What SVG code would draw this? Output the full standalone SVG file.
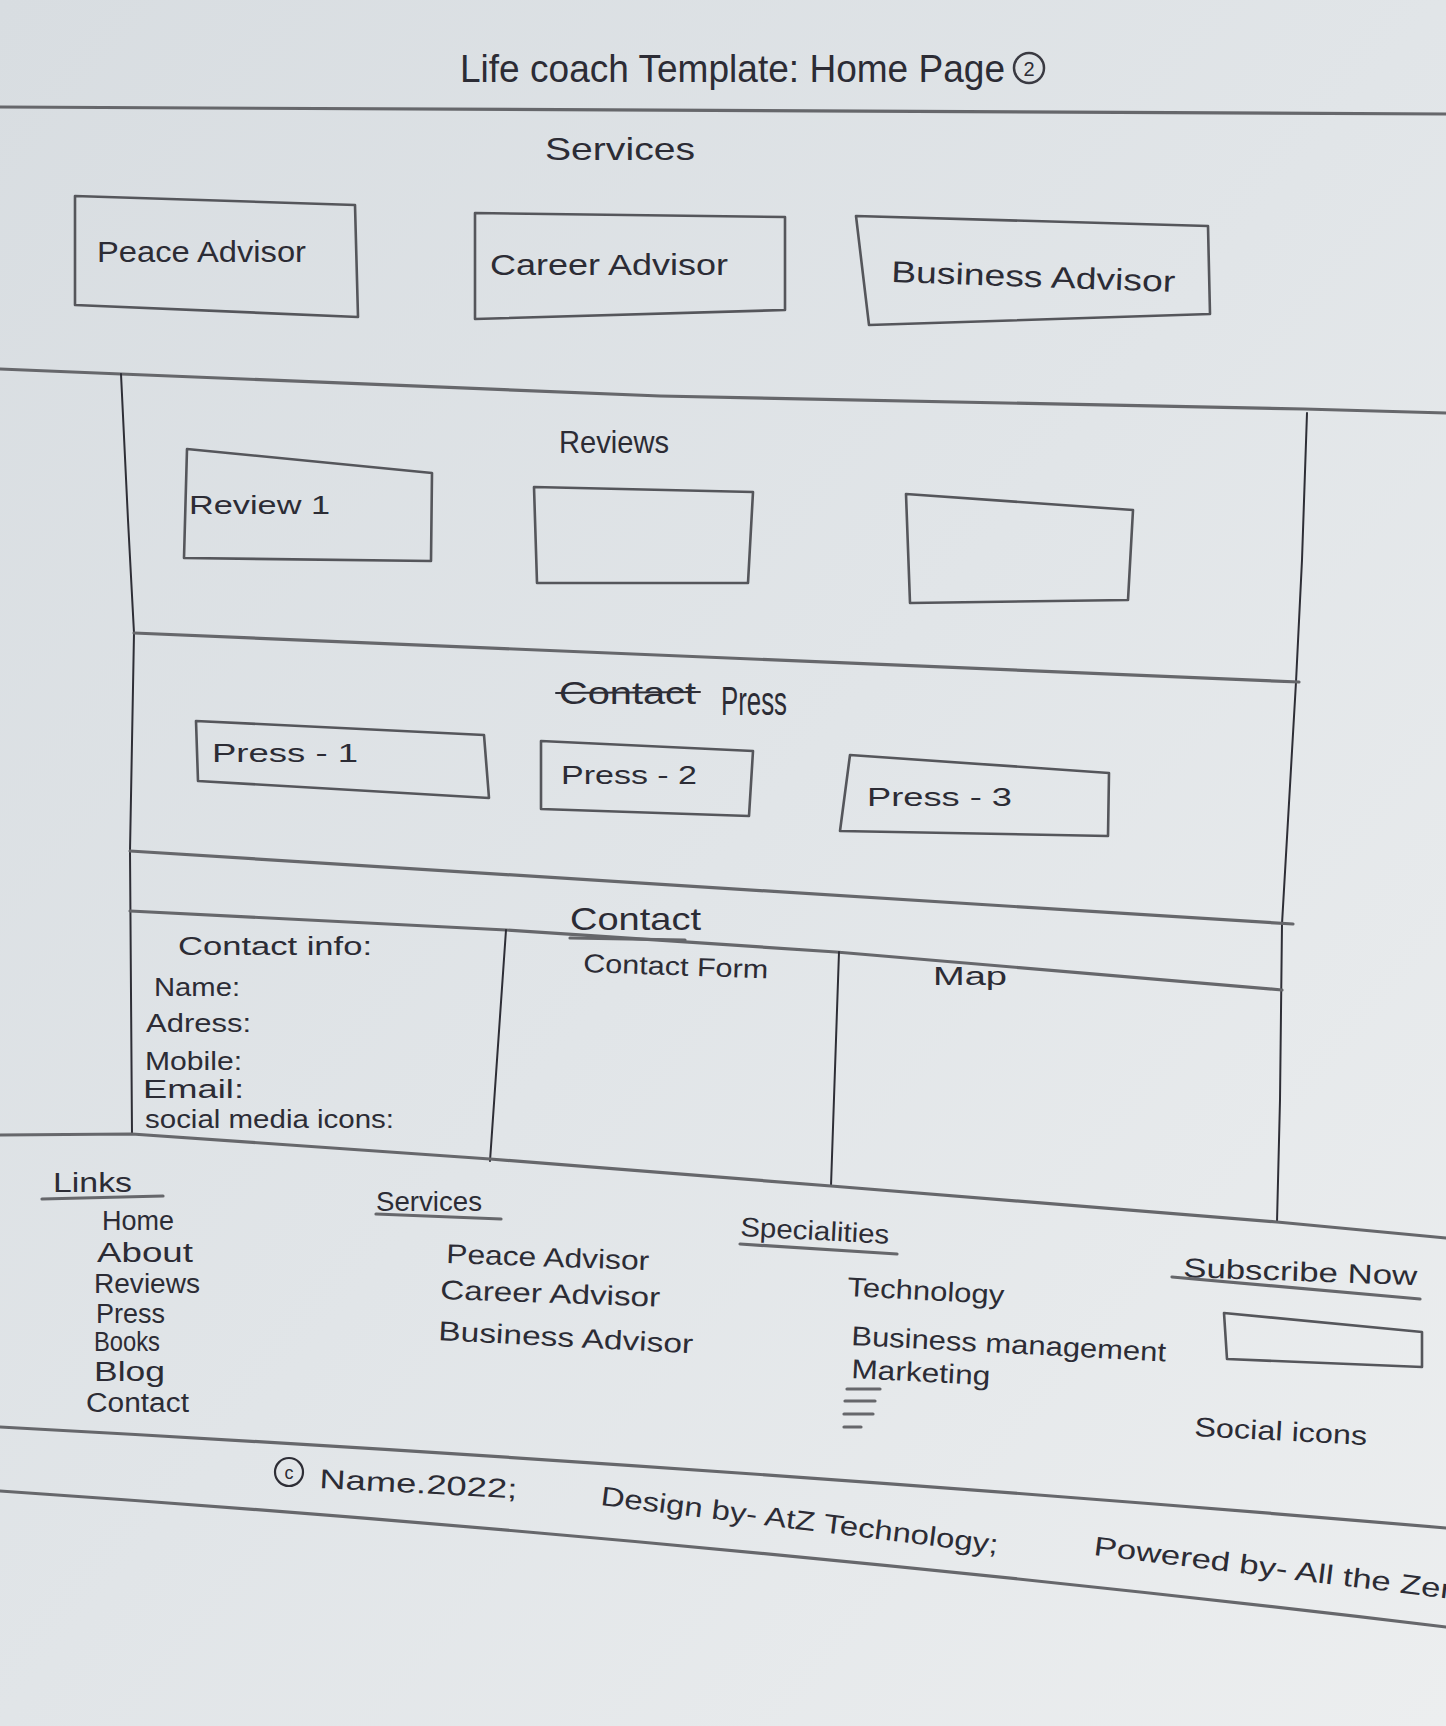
<svg xmlns="http://www.w3.org/2000/svg" width="1446" height="1726" viewBox="0 0 1446 1726">
  <defs>
    <linearGradient id="paper" x1="0" y1="0" x2="1" y2="1">
      <stop offset="0" stop-color="#d8dde1"/>
      <stop offset="0.5" stop-color="#e1e5e8"/>
      <stop offset="1" stop-color="#eceeef"/>
    </linearGradient>
    <style>
      .pen { fill: none; stroke: #2e2e36; stroke-width: 2; stroke-linecap: round; stroke-linejoin: round; }
      .pencil { fill: none; stroke: #66676b; stroke-width: 3.2; stroke-linecap: round; stroke-linejoin: round; }
      .box { fill: none; stroke: #55565b; stroke-width: 2.6; stroke-linejoin: round; }
      text { font-family: "Liberation Sans", Arial, sans-serif; fill: #2c2c35; }
      .title { font-size: 38px; }
      .head { font-size: 32px; }
      .label { font-size: 30px; }
      .small { font-size: 26px; }
      .foot { font-size: 27px; }
    </style>
  </defs>

  <!-- paper -->
  <rect x="0" y="0" width="1446" height="1726" fill="url(#paper)"/>

  <!-- page title -->
  <g id="title">
    <text class="title" x="460" y="82" textLength="545" lengthAdjust="spacingAndGlyphs">Life coach Template: Home Page</text>
    <circle cx="1029" cy="68" r="15" fill="none" stroke="#3a3a42" stroke-width="2.5"/>
    <text x="1029" y="76" font-size="20" text-anchor="middle">2</text>
  </g>

  <!-- section rules and the outer frame of the page body -->
  <g id="section-lines">
    <path class="pencil" d="M0,107 L1446,114"/>
    <path class="pencil" d="M0,369 L121,374 Q400,386 660,396 L1304,409 L1446,413"/>
    <path class="pen" d="M121,374 L128,520 L134,633 L130,851 L132,1134"/>
    <path class="pen" d="M1307,413 L1302,560 L1296,682 L1282,924 L1280,1100 L1277,1222"/>
    <path class="pencil" d="M134,633 Q700,658 1299,682"/>
    <path class="pencil" d="M130,851 L1293,924"/>
    <path class="pencil" d="M130,911 L506,930 L836,952 L1282,990"/>
    <path class="pen" d="M506,930 L490,1161"/>
    <path class="pen" d="M839,952 L831,1186"/>
    <path class="pencil" d="M0,1135 L132,1134 L490,1159 L831,1186 L1277,1222 L1446,1238"/>
    <path class="pencil" d="M0,1427 Q720,1466 1446,1528"/>
    <path class="pencil" d="M0,1491 Q720,1540 1446,1627"/>
  </g>

  <!-- services row -->
  <g id="services-heading">
    <text class="head" x="545" y="160" textLength="150" lengthAdjust="spacingAndGlyphs">Services</text>
  </g>
  <g id="svc-peace">
    <path class="box" d="M75,196 L355,205 L358,317 L75,305 Z"/>
    <text class="label" x="97" y="262" textLength="209" lengthAdjust="spacingAndGlyphs">Peace Advisor</text>
  </g>
  <g id="svc-career">
    <path class="box" d="M475,213 L785,217 L785,310 L475,319 Z"/>
    <text class="label" x="490" y="275" textLength="238" lengthAdjust="spacingAndGlyphs">Career Advisor</text>
  </g>
  <g id="svc-business">
    <path class="box" d="M856,216 L1208,226 L1210,314 L869,325 Z"/>
    <text class="label" x="891" y="282" textLength="284" lengthAdjust="spacingAndGlyphs" transform="rotate(2 891 282)">Business Advisor</text>
  </g>

  <!-- reviews -->
  <g id="reviews-heading">
    <text class="head" x="559" y="453" textLength="110" lengthAdjust="spacingAndGlyphs">Reviews</text>
  </g>
  <g id="review-1">
    <path class="box" d="M187,449 L432,473 L431,561 L184,558 Z"/>
    <text class="small" x="189" y="514" textLength="141" lengthAdjust="spacingAndGlyphs">Review 1</text>
  </g>
  <g id="review-2">
    <path class="box" d="M534,487 L753,492 L748,583 L537,583 Z"/>
  </g>
  <g id="review-3">
    <path class="box" d="M906,494 L1133,510 L1128,600 L910,603 Z"/>
  </g>

  <!-- press -->
  <g id="press-heading">
    <text class="head" x="559" y="704" textLength="137" lengthAdjust="spacingAndGlyphs">Contact</text>
    <path class="pen" d="M556,693 L700,692" stroke-width="2.5"/>
    <text x="721" y="715" font-size="40" textLength="66" lengthAdjust="spacingAndGlyphs">Press</text>
  </g>
  <g id="press-1">
    <path class="box" d="M196,721 L484,735 L489,798 L198,781 Z"/>
    <text class="small" x="212" y="762" textLength="146" lengthAdjust="spacingAndGlyphs">Press - 1</text>
  </g>
  <g id="press-2">
    <path class="box" d="M541,741 L753,751 L749,816 L541,809 Z"/>
    <text class="small" x="561" y="784" textLength="136" lengthAdjust="spacingAndGlyphs">Press - 2</text>
  </g>
  <g id="press-3">
    <path class="box" d="M850,755 L1109,773 L1108,836 L840,831 Z"/>
    <text class="small" x="867" y="806" textLength="145" lengthAdjust="spacingAndGlyphs">Press - 3</text>
  </g>

  <!-- contact -->
  <g id="contact-heading">
    <text class="head" x="570" y="930" textLength="131" lengthAdjust="spacingAndGlyphs">Contact</text>
    <path class="pencil" d="M570,938 L685,940"/>
  </g>
  <g id="contact-info">
    <text class="small" x="178" y="955" textLength="194" lengthAdjust="spacingAndGlyphs">Contact info:</text>
    <text class="small" x="154" y="996" textLength="86" lengthAdjust="spacingAndGlyphs">Name:</text>
    <text class="small" x="146" y="1032" textLength="105" lengthAdjust="spacingAndGlyphs">Adress:</text>
    <text class="small" x="145" y="1070" textLength="97" lengthAdjust="spacingAndGlyphs">Mobile:</text>
    <text class="small" x="143" y="1098" textLength="101" lengthAdjust="spacingAndGlyphs">Email:</text>
    <text class="small" x="145" y="1128" textLength="249" lengthAdjust="spacingAndGlyphs">social media icons:</text>
  </g>
  <g id="contact-form">
    <text class="small" x="583" y="972" textLength="185" lengthAdjust="spacingAndGlyphs" transform="rotate(2 583 972)">Contact Form</text>
  </g>
  <g id="map">
    <text class="small" x="933" y="985" textLength="74" lengthAdjust="spacingAndGlyphs">Map</text>
  </g>

  <!-- footer: links -->
  <g id="footer-links">
    <text class="foot" x="53" y="1192" textLength="79" lengthAdjust="spacingAndGlyphs">Links</text>
    <path class="pencil" d="M42,1199 L163,1196"/>
    <text class="foot" x="102" y="1230" textLength="72" lengthAdjust="spacingAndGlyphs">Home</text>
    <text class="foot" x="97" y="1262" textLength="96" lengthAdjust="spacingAndGlyphs">About</text>
    <text class="foot" x="94" y="1293" textLength="106" lengthAdjust="spacingAndGlyphs">Reviews</text>
    <text class="foot" x="96" y="1323" textLength="69" lengthAdjust="spacingAndGlyphs">Press</text>
    <text class="foot" x="94" y="1351" textLength="66" lengthAdjust="spacingAndGlyphs">Books</text>
    <text class="foot" x="94" y="1381" textLength="71" lengthAdjust="spacingAndGlyphs">Blog</text>
    <text class="foot" x="86" y="1412" textLength="103" lengthAdjust="spacingAndGlyphs">Contact</text>
  </g>

  <!-- footer: services -->
  <g id="footer-services">
    <text class="foot" x="376" y="1211" textLength="106" lengthAdjust="spacingAndGlyphs">Services</text>
    <path class="pencil" d="M376,1214 L501,1219"/>
    <text class="foot" x="446" y="1263" textLength="203" lengthAdjust="spacingAndGlyphs" transform="rotate(2 446 1263)">Peace Advisor</text>
    <text class="foot" x="440" y="1299" textLength="220" lengthAdjust="spacingAndGlyphs" transform="rotate(2 440 1299)">Career Advisor</text>
    <text class="foot" x="438" y="1340" textLength="255" lengthAdjust="spacingAndGlyphs" transform="rotate(3 438 1340)">Business Advisor</text>
  </g>

  <!-- footer: specialities -->
  <g id="footer-specialities">
    <text class="foot" x="740" y="1236" textLength="149" lengthAdjust="spacingAndGlyphs" transform="rotate(3 740 1236)">Specialities</text>
    <path class="pencil" d="M740,1244 L897,1254"/>
    <text class="foot" x="847" y="1296" textLength="157" lengthAdjust="spacingAndGlyphs" transform="rotate(3 847 1296)">Technology</text>
    <text class="foot" x="851" y="1345" textLength="315" lengthAdjust="spacingAndGlyphs" transform="rotate(3 851 1345)">Business management</text>
    <text class="foot" x="851" y="1378" textLength="139" lengthAdjust="spacingAndGlyphs" transform="rotate(3 851 1378)">Marketing</text>
    <path class="pencil" d="M847,1389 L880,1389 M845,1401 L875,1401 M844,1414 L873,1414 M844,1427 L861,1427" stroke-width="2.2"/>
  </g>

  <!-- footer: subscribe -->
  <g id="footer-subscribe">
    <text class="foot" x="1183" y="1277" textLength="234" lengthAdjust="spacingAndGlyphs" transform="rotate(2 1183 1277)">Subscribe Now</text>
    <path class="pencil" d="M1172,1277 L1420,1299"/>
    <path class="box" d="M1224,1313 L1422,1332 L1422,1367 L1227,1359 Z"/>
    <text class="foot" x="1194" y="1436" textLength="173" lengthAdjust="spacingAndGlyphs" transform="rotate(3 1194 1436)">Social icons</text>
  </g>

  <!-- copyright strip -->
  <g id="copyright">
    <circle cx="289" cy="1472" r="14" fill="none" stroke="#2e2e36" stroke-width="2.2"/>
    <text x="289" y="1479" font-size="18" text-anchor="middle">c</text>
    <text class="foot" x="319" y="1488" textLength="198" lengthAdjust="spacingAndGlyphs" transform="rotate(3 319 1488)">Name.2022;</text>
    <text class="foot" x="600" y="1505" textLength="400" lengthAdjust="spacingAndGlyphs" transform="rotate(7 600 1505)">Design by- AtZ Technology;</text>
    <text class="foot" x="1093" y="1555" textLength="380" lengthAdjust="spacingAndGlyphs" transform="rotate(7 1093 1555)">Powered by- All the Zero</text>
  </g>
</svg>
